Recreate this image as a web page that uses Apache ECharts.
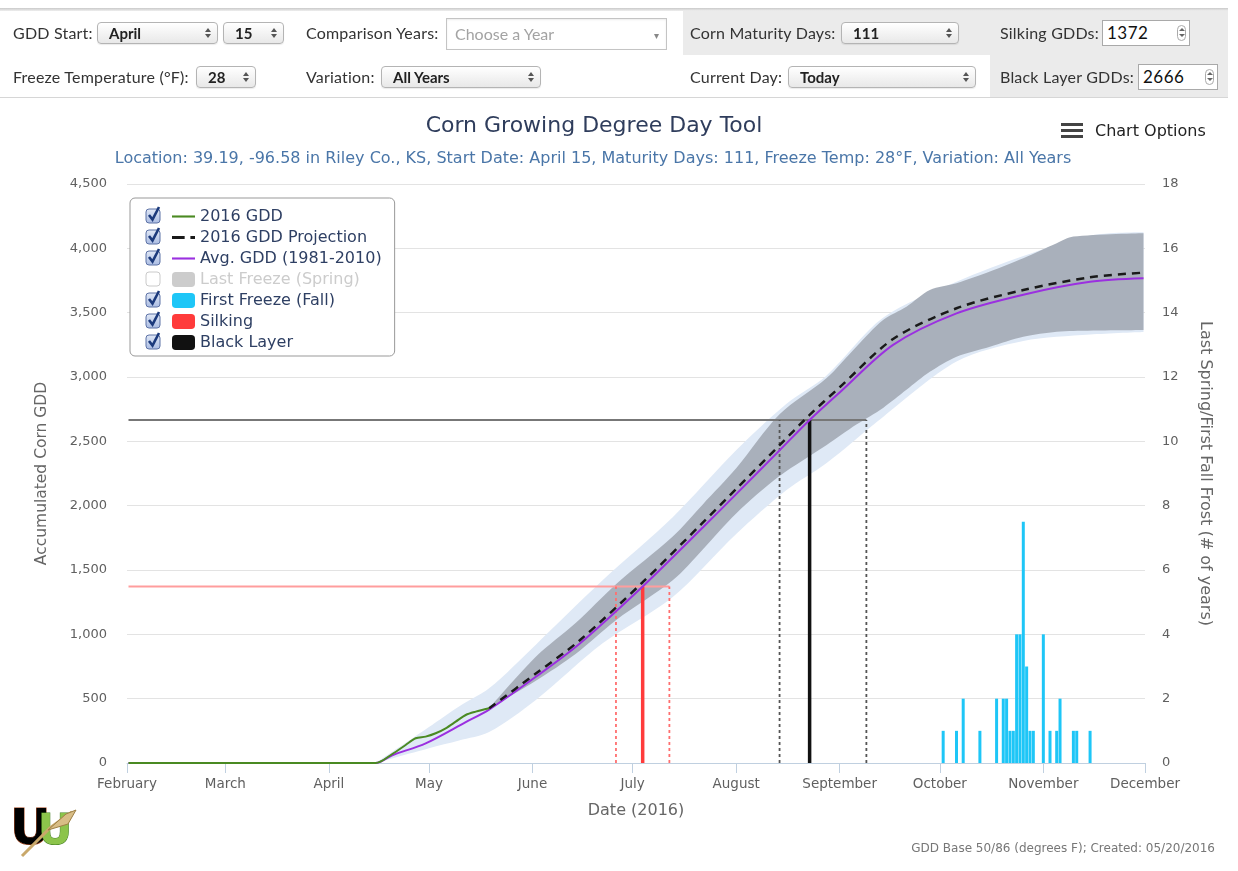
<!DOCTYPE html>
<html>
<head>
<meta charset="utf-8">
<title>Corn Growing Degree Day Tool</title>
<script src="https://cdn.jsdelivr.net/npm/echarts@6.0.0/dist/echarts.min.js"></script>
<style>
  html, body { margin: 0; padding: 0; background: #fff; width: 1238px; height: 871px; overflow: hidden; }
  #chart { position: absolute; left: 0; top: 0; width: 1238px; height: 871px; }
  #controls { position: absolute; left: 0; top: 0; width: 1238px; height: 100px; z-index: 2;
    font-family: Lato, 'Open Sans', sans-serif; color: #333; }
  #controls .rule { position: absolute; left: 0; width: 1228px; }
  #controls .rule.top { top: 8px; height: 3px; background: linear-gradient(#c9c9c9, #efefef); }
  #controls .rule.bottom { top: 97px; height: 1px; background: #d6d6d6; }
  #controls .shade { position: absolute; background: #ebebeb; }
  #controls .lbl { position: absolute; font-size: 16px; letter-spacing: 0.2px; line-height: 20px; white-space: nowrap; }
  .sel { position: absolute; height: 22px; box-sizing: border-box; border: 1px solid #b4b4b4; border-radius: 4px;
    background: linear-gradient(#fff, #e8e8e8); box-shadow: 0 1px 1px rgba(0,0,0,.08);
    padding-left: 11px; font-size: 15px; font-weight: 700; line-height: 20px; color: #222; }
  .arr { position: absolute; right: 9px; top: 10px; }
  .arr:before, .arr:after, .spin:before, .spin:after { content: ''; position: absolute; left: -3px;
    border-left: 3px solid transparent; border-right: 3px solid transparent; }
  .arr:before { top: -5px; border-bottom: 4px solid #555; }
  .arr:after { top: 1px; border-top: 4px solid #555; }
  .chosen { position: absolute; height: 32px; box-sizing: border-box; border: 1px solid #c4c4c4; background: #fff;
    box-shadow: inset 0 1px 2px rgba(0,0,0,.08); padding-left: 8px; font-size: 16px; line-height: 30px; color: #a3a3a3; }
  .chosen .drop { position: absolute; right: 7px; top: 1px; font-style: normal; font-size: 10px; color: #888; }
  .num { position: absolute; height: 26px; box-sizing: border-box; border: 1px solid #a9a9a9; background: #fff;
    padding-left: 4px; font-size: 17px; font-weight: 400; letter-spacing: 0.5px; line-height: 24px; color: #111; }
  .spin { position: absolute; right: 3px; top: 4px; width: 9px; height: 16px; border: 1px solid #aaa;
    border-radius: 5px; box-sizing: border-box; }
  .spin:before { left: 1px; top: 2px; border-bottom: 3px solid #666; }
  .spin:after { left: 1px; top: 8px; border-top: 3px solid #666; }
</style>
</head>
<body>
<div id="chart"></div>

<div id="controls">
  <div class="rule top"></div>
  <div class="shade" style="left:683px;top:11px;width:307px;height:44px"></div>
  <div class="shade" style="left:990px;top:11px;width:238px;height:86px"></div>
  <div class="rule bottom"></div>

  <span class="lbl" style="left:13px;top:23px">GDD Start:</span>
  <div class="sel" style="left:97px;top:22px;width:121px">April<i class="arr"></i></div>
  <div class="sel" style="left:223px;top:22px;width:61px">15<i class="arr"></i></div>
  <span class="lbl" style="left:306px;top:23px">Comparison Years:</span>
  <div class="chosen" style="left:446px;top:18px;width:221px">Choose a Year<i class="drop">&#9662;</i></div>
  <span class="lbl" style="left:690px;top:23px">Corn Maturity Days:</span>
  <div class="sel" style="left:841px;top:22px;width:118px">111<i class="arr"></i></div>
  <span class="lbl" style="left:1000px;top:23px">Silking GDDs:</span>
  <div class="num" style="left:1102px;top:20px;width:88px">1372<i class="spin"></i></div>

  <span class="lbl" style="left:13px;top:67px">Freeze Temperature (°F):</span>
  <div class="sel" style="left:196px;top:66px;width:60px">28<i class="arr"></i></div>
  <span class="lbl" style="left:306px;top:67px">Variation:</span>
  <div class="sel" style="left:381px;top:66px;width:160px">All Years<i class="arr"></i></div>
  <span class="lbl" style="left:690px;top:67px">Current Day:</span>
  <div class="sel" style="left:788px;top:66px;width:188px">Today<i class="arr"></i></div>
  <span class="lbl" style="left:1000px;top:67px">Black Layer GDDs:</span>
  <div class="num" style="left:1138px;top:64px;width:80px">2666<i class="spin"></i></div>
</div>

<script>
// axis range and ticks
const axisStart = '2016-02-01';
const axisEnd = '2016-12-01';
const monthNames = ['January', 'February', 'March', 'April', 'May', 'June', 'July',
  'August', 'September', 'October', 'November', 'December'];
const gddMax = 4500;
const gddStep = 500;
const frostMax = 18;
const frostStep = 2;

// 2016 observed GDD
const gdd2016Dates = ['2016-02-01', '2016-04-15', '2016-04-20', '2016-04-24', '2016-04-27', '2016-04-30',
  '2016-05-03', '2016-05-06', '2016-05-09', '2016-05-12', '2016-05-15', '2016-05-19'];
const gdd2016Values = [0, 0, 70, 140, 192, 205, 231, 270, 321, 373, 399, 425];

// 2016 projection
const projDates = ['2016-05-19', '2016-06-02', '2016-06-15', '2016-07-04', '2016-07-22', '2016-08-01',
  '2016-08-14', '2016-08-23', '2016-09-01', '2016-09-17', '2016-10-06', '2016-10-26', '2016-11-15', '2016-12-01'];
const projValues = [425, 695, 950, 1405, 1868, 2130, 2470, 2705, 2920, 3295, 3534, 3676, 3775, 3811];

// 1981-2010 average
const avgDates = ['2016-02-01', '2016-04-10', '2016-04-15', '2016-04-20', '2016-04-30', '2016-05-12',
  '2016-05-19', '2016-06-02', '2016-06-15', '2016-07-04', '2016-07-22', '2016-08-01', '2016-08-14',
  '2016-08-23', '2016-09-01', '2016-09-17', '2016-10-06', '2016-10-26', '2016-11-15', '2016-12-01'];
const avgValues = [0, 0, 0, 60, 153, 318, 415, 670, 925, 1372, 1830, 2090, 2430, 2666, 2880, 3250,
  3495, 3640, 3740, 3767];

// all-years range (light blue)
const allYearsDates = ['2016-04-15', '2016-05-01', '2016-05-10', '2016-05-19', '2016-06-02', '2016-06-22',
  '2016-07-13', '2016-08-01', '2016-08-16', '2016-08-28', '2016-09-14', '2016-10-06', '2016-10-26',
  '2016-11-15', '2016-12-01'];
const allYearsLow = [0, 115, 175, 240, 490, 930, 1290, 1780, 2120, 2330, 2690, 3120, 3280, 3330, 3350];
const allYearsHigh = [0, 280, 440, 580, 920, 1420, 1910, 2430, 2790, 3010, 3460, 3740, 3940, 4100, 4125];

// projection range (gray)
const projRangeDates = ['2016-05-19', '2016-06-02', '2016-06-14', '2016-06-26', '2016-07-13', '2016-07-22',
  '2016-08-01', '2016-08-14', '2016-08-28', '2016-09-06', '2016-09-14', '2016-09-21', '2016-09-28',
  '2016-10-06', '2016-10-16', '2016-10-26', '2016-11-05', '2016-11-10', '2016-12-01'];
const projRangeLow = [425, 640, 850, 1110, 1420, 1660, 1940, 2230, 2470, 2630, 2760, 2900, 3040, 3158,
  3236, 3313, 3352, 3358, 3365];
const projRangeHigh = [425, 826, 1090, 1390, 1760, 2010, 2290, 2710, 2990, 3236, 3443, 3546, 3676, 3728,
  3819, 3922, 4039, 4091, 4117];

// silking / black layer (early, expected, late)
const silkingGdd = 1372;
const silkingDates = ['2016-06-26', '2016-07-04', '2016-07-12'];
const blackLayerGdd = 2666;
const blackLayerDates = ['2016-08-14', '2016-08-23', '2016-09-09'];

// first fall freeze (# of years)
const freezeDates = ['2016-10-02', '2016-10-06', '2016-10-08', '2016-10-13', '2016-10-18', '2016-10-20',
  '2016-10-21', '2016-10-22', '2016-10-23', '2016-10-24', '2016-10-25', '2016-10-26', '2016-10-27',
  '2016-10-28', '2016-10-29', '2016-11-01', '2016-11-03', '2016-11-05', '2016-11-06', '2016-11-10',
  '2016-11-11', '2016-11-15'];
const freezeYears = [1, 1, 2, 1, 2, 2, 2, 1, 1, 4, 4, 7.5, 3, 1, 1, 4, 1, 1, 2, 1, 1, 1];

// last spring freeze is switched off in the legend
const lastFreezeDates = [];
const lastFreezeYears = [];

const font = 'DejaVu Sans';
const startTime = new Date(axisStart + 'T00:00:00').getTime();
const pairs = (dates, values) => dates.map((d, i) => [d, values[i]]);

// shaded range = invisible lower line + stacked difference
const rangeSeries = (key, dates, low, high, color) => [
  {
    name: key + ' low', type: 'line', stack: key, data: pairs(dates, low),
    symbol: 'none', smooth: 0.3, silent: true, lineStyle: { opacity: 0 },
  },
  {
    name: key + ' range', type: 'line', stack: key,
    data: dates.map((d, i) => [d, high[i] - low[i]]),
    symbol: 'none', smooth: 0.3, silent: true, lineStyle: { opacity: 0 },
    areaStyle: { color: color, opacity: 1 },
  },
];

// horizontal line + early/late dashed + expected solid
const markerSeries = (name, dates, gdd, c) => {
  const [early, mid, late] = dates;
  const base = { name, type: 'line', symbol: 'none', silent: true, itemStyle: { color: c.solid } };
  return [
    { ...base, data: [[axisStart, gdd], [late, gdd]], lineStyle: { color: c.flat, width: 2 } },
    { ...base, data: [[early, 0], [early, gdd]], lineStyle: { color: c.dash, width: 1.8, type: [3, 3] } },
    { ...base, data: [[late, 0], [late, gdd]], lineStyle: { color: c.dash, width: 1.8, type: [3, 3] } },
    { ...base, data: [[mid, 0], [mid, gdd]], lineStyle: { color: c.solid, width: 3.5 } },
  ];
};

// legend icons: flat bar for lines, dash + dot for the projection
const lineIcon = 'path://M0,0h24v2.2h-24z';
const dashIcon = 'path://M0,0h11v2.4h-11zM16,0h4v2.4h-4z';
const legendItems = [
  { name: '2016 GDD', icon: lineIcon },
  { name: '2016 GDD Projection', icon: dashIcon },
  { name: 'Avg. GDD (1981-2010)', icon: lineIcon },
  { name: 'Last Freeze (Spring)', icon: 'roundRect' },
  { name: 'First Freeze (Fall)', icon: 'roundRect' },
  { name: 'Silking', icon: 'roundRect' },
  { name: 'Black Layer', icon: 'roundRect' },
];
const legendSelected = { 'Last Freeze (Spring)': false };

// checkboxes next to legend rows
const checkGradient = new echarts.graphic.LinearGradient(0, 0, 0, 1, [
  { offset: 0, color: '#e3eaf7' }, { offset: 1, color: '#a9bbe2' },
]);
const checkboxes = legendItems.map((item, i) => {
  const on = legendSelected[item.name] !== false;
  const y = 216 + i * 21 - 7;
  const list = [{
    type: 'rect', x: 146, y: y, z: 30, shape: { x: 0, y: 0, width: 14, height: 14, r: 3 },
    style: { fill: on ? checkGradient : '#fff', stroke: on ? '#5d72a6' : '#cacaca', lineWidth: 1 },
  }];
  if (on) {
    list.push({
      type: 'polyline', x: 146, y: y, z: 31, shape: { points: [[3, 6], [6.5, 10.5], [13, -2]] },
      style: { stroke: '#1c3a7c', lineWidth: 2.6, fill: 'none' },
    });
  }
  return list;
}).flat();

// small logo in the corner
const logo = [
  { type: 'text', x: 10, y: 806, z: 5, style: { text: 'U', font: 'bold 50px DejaVu Sans',
    fill: new echarts.graphic.LinearGradient(0, 0, 0, 1, [
      { offset: 0, color: '#f3d437' }, { offset: 0.5, color: '#ef8a1d' }, { offset: 1, color: '#d3231d' }]),
    stroke: '#9a3b12', lineWidth: 1 } },
  { type: 'text', x: 38, y: 812, z: 5, style: { text: 'U', font: 'bold 42px DejaVu Sans', fill: '#8cc44b',
    stroke: '#3f7a1f', lineWidth: 1 } },
  { type: 'polyline', x: 10, y: 806, z: 6, shape: { points: [[12, 50], [40, 22], [62, 6]] },
    style: { stroke: '#c9a86a', lineWidth: 3, fill: 'none' } },
  { type: 'polygon', x: 10, y: 806, z: 6, shape: { points: [[38, 24], [56, 8], [66, 4], [58, 18]] },
    style: { fill: '#d8bd86', stroke: '#9d7f45', lineWidth: 1 } },
];

const chart = echarts.init(document.getElementById('chart'), null, { renderer: 'canvas' });

const option = {
  animation: false,
  backgroundColor: '#fff',
  title: [
    {
      text: 'Corn Growing Degree Day Tool', left: 589, top: 110, textAlign: 'center', padding: 5,
      textStyle: { fontFamily: font, fontSize: 22, fontWeight: 'normal', color: '#2f3d5c' },
    },
    {
      text: 'Location: 39.19, -96.58 in Riley Co., KS, Start Date: April 15, Maturity Days: 111, Freeze Temp: 28°F, Variation: All Years',
      left: 588, top: 146, textAlign: 'center', padding: 5,
      textStyle: { fontFamily: font, fontSize: 16, fontWeight: 'normal', color: '#4a76a8' },
    },
  ],
  legend: {
    orient: 'vertical', left: 130, top: 198,
    padding: [8, 13, 3, 42],
    itemWidth: 23, itemHeight: 15, itemGap: 0,
    symbolKeepAspect: true,
    backgroundColor: '#fff', borderColor: '#999', borderWidth: 1, borderRadius: 5,
    textStyle: { fontFamily: font, fontSize: 16, color: '#2e3f63', lineHeight: 21 },
    inactiveColor: '#cccccc',
    itemStyle: { borderWidth: 0 },
    selected: legendSelected,
    data: legendItems,
    z: 10,
  },
  grid: { left: 127, right: 93, top: 184, bottom: 108, containLabel: false, outerBoundsMode: 'none' },
  xAxis: {
    type: 'time', min: axisStart, max: axisEnd, splitNumber: 10,
    name: 'Date (2016)', nameLocation: 'middle', nameGap: 40, nameMoveOverlap: false,
    nameTextStyle: { fontFamily: font, fontSize: 16, color: '#666' },
    axisLine: { show: true, lineStyle: { color: '#c0d0e0', width: 1 } },
    axisTick: { show: true, length: 10, lineStyle: { color: '#c0d0e0' } },
    axisLabel: {
      fontFamily: font, fontSize: 13.5, color: '#606060', margin: 14,
      showMinLabel: true, showMaxLabel: true, hideOverlap: false,
      formatter: (v) => monthNames[new Date(Math.max(v, startTime)).getMonth()],
    },
    splitLine: { show: false },
    minorTick: { show: false },
  },
  yAxis: [
    {
      type: 'value', position: 'left', min: 0, max: gddMax, interval: gddStep,
      name: 'Accumulated Corn GDD', nameLocation: 'middle', nameGap: 77, nameRotate: 90, nameMoveOverlap: false,
      nameTextStyle: { fontFamily: font, fontSize: 15.5, color: '#666' },
      axisLine: { show: false }, axisTick: { show: false },
      axisLabel: { fontFamily: font, fontSize: 13, color: '#606060', margin: 20,
        formatter: (v) => v.toLocaleString('en-US') },
      splitLine: { show: true, lineStyle: { color: '#e3e3e3', width: 1 } },
    },
    {
      type: 'value', position: 'right', min: 0, max: frostMax, interval: frostStep,
      name: 'Last Spring/First Fall Frost (# of years)', nameLocation: 'middle', nameGap: 52, nameRotate: -90,
      nameMoveOverlap: false,
      nameTextStyle: { fontFamily: font, fontSize: 16, color: '#666' },
      axisLine: { show: false }, axisTick: { show: false },
      axisLabel: { fontFamily: font, fontSize: 13, color: '#606060', margin: 17 },
      splitLine: { show: false },
    },
  ],
  graphic: [
    ...checkboxes,
    { type: 'rect', x: 1061, y: 123, z: 5, shape: { width: 22, height: 3 }, style: { fill: '#444' } },
    { type: 'rect', x: 1061, y: 129, z: 5, shape: { width: 22, height: 3 }, style: { fill: '#444' } },
    { type: 'rect', x: 1061, y: 135, z: 5, shape: { width: 22, height: 3 }, style: { fill: '#444' } },
    { type: 'text', x: 1095, y: 132, z: 5, style: { text: 'Chart Options', font: '16px DejaVu Sans', fill: '#222',
      textVerticalAlign: 'middle', verticalAlign: 'middle' } },
    { type: 'text', x: 1215, y: 849, z: 5, style: { text: 'GDD Base 50/86 (degrees F); Created: 05/20/2016',
      font: '12px DejaVu Sans', fill: '#777', textAlign: 'right', align: 'right',
      textVerticalAlign: 'middle', verticalAlign: 'middle' } },
    ...logo,
  ],
  series: [
    ...rangeSeries('allYears', allYearsDates, allYearsLow, allYearsHigh, '#dfe9f6'),
    ...rangeSeries('projRange', projRangeDates, projRangeLow, projRangeHigh, '#a9b0bb'),
    ...markerSeries('Silking', silkingDates, silkingGdd, { flat: '#ff9d9d', dash: '#ff6f6f', solid: '#ff3b3b' }),
    ...markerSeries('Black Layer', blackLayerDates, blackLayerGdd, { flat: '#777777', dash: '#555555', solid: '#111111' }),
    {
      name: 'Last Freeze (Spring)', type: 'bar', yAxisIndex: 1, barWidth: 3, barGap: '-100%',
      data: pairs(lastFreezeDates, lastFreezeYears), itemStyle: { color: '#cccccc' },
    },
    {
      name: 'First Freeze (Fall)', type: 'bar', yAxisIndex: 1, barWidth: 3, barGap: '-100%',
      data: pairs(freezeDates, freezeYears), itemStyle: { color: '#1ec6f7' },
    },
    {
      name: 'Avg. GDD (1981-2010)', type: 'line', data: pairs(avgDates, avgValues),
      symbol: 'none', smooth: 0.3, itemStyle: { color: '#9b30e0' }, lineStyle: { color: '#9b30e0', width: 2 },
    },
    {
      name: '2016 GDD Projection', type: 'line', data: pairs(projDates, projValues),
      symbol: 'none', smooth: 0.3, itemStyle: { color: '#1a1a1a' },
      lineStyle: { color: '#1a1a1a', width: 2.5, type: [8, 6] },
    },
    {
      name: '2016 GDD', type: 'line', data: pairs(gdd2016Dates, gdd2016Values),
      symbol: 'none', smooth: 0.3, itemStyle: { color: '#4a8a22' }, lineStyle: { color: '#4a8a22', width: 2 },
    },
  ],
};

chart.setOption(option);
</script>
</body>
</html>
